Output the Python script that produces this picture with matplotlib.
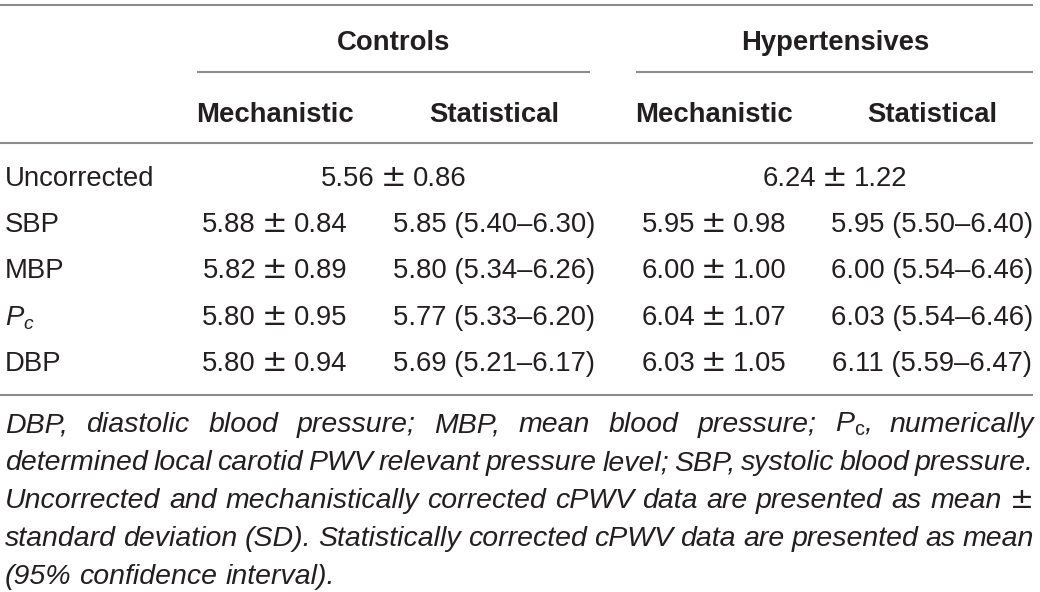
import numpy as np
import matplotlib
matplotlib.use('Agg')
import matplotlib.pyplot as plt

plt.rcParams['font.family'] = ['Liberation Sans', 'DejaVu Sans']
plt.rcParams['mathtext.fontset'] = 'custom'
plt.rcParams['mathtext.rm'] = 'Liberation Sans'
plt.rcParams['mathtext.it'] = 'Liberation Sans:italic'
plt.rcParams['mathtext.bf'] = 'Liberation Sans:bold'

# table data
groups = ['Controls', 'Hypertensives']
subcols = ['Mechanistic', 'Statistical']
row_labels = ['SBP', 'MBP', r'$P_c$', 'DBP']
uncorr_mean = [5.56, 6.24]
uncorr_sd = [0.86, 1.22]
ctrl_mech_mean = [5.88, 5.82, 5.80, 5.80]
ctrl_mech_sd = [0.84, 0.89, 0.95, 0.94]
ctrl_stat_mean = [5.85, 5.80, 5.77, 5.69]
ctrl_stat_lo = [5.40, 5.34, 5.33, 5.21]
ctrl_stat_hi = [6.30, 6.26, 6.20, 6.17]
hyp_mech_mean = [5.95, 6.00, 6.04, 6.03]
hyp_mech_sd = [0.98, 1.00, 1.07, 1.05]
hyp_stat_mean = [5.95, 6.00, 6.03, 6.11]
hyp_stat_lo = [5.50, 5.54, 5.54, 5.59]
hyp_stat_hi = [6.40, 6.46, 6.46, 6.47]

footnote = [
    r'DBP, diastolic blood pressure; MBP, mean blood pressure; $P_{\mathrm{c}}$, numerically',
    'determined local carotid PWV relevant pressure level; SBP, systolic blood pressure.',
    'Uncorrected and mechanistically corrected cPWV data are presented as mean \u00b1',
    'standard deviation (SD). Statistically corrected cPWV data are presented as mean',
    '(95% confidence interval).',
]

W, H = 1040, 592
FS = 19.8
FS_NOTE = 20.5
TXT = '#231f20'
LINE = '#8c8c8c'

fig = plt.figure(figsize=(W / 100, H / 100), dpi=100)
ax = fig.add_axes([0, 0, 1, 1])
ax.set_xlim(0, W)
ax.set_ylim(H, 0)
ax.axis('off')

def pm_cell(xc, y, m, s):
    # mean ± sd with the wide, thin ± sign of the original typesetting
    ax.text(xc - 19, y, '%.2f' % m, ha='right', va='baseline', fontsize=FS, color=TXT)
    ax.text(xc, y, '\u00b1', ha='center', va='baseline', fontsize=22, color=TXT,
            family='DejaVu Sans')
    ax.text(xc + 19, y, '%.2f' % s, ha='left', va='baseline', fontsize=FS, color=TXT)

def ci(m, lo, hi):
    return '%.2f (%.2f\u2013%.2f)' % (m, lo, hi)

# column centres
col_x = [275, 494, 714, 932]
grp_x = [394, 835]
grp_line = [(197, 590), (636, 1033)]

# rules
for y in [5, 143, 395]:
    ax.plot([0, 1033], [y, y], color=LINE, lw=1.5, solid_capstyle='butt')
for (a, b) in grp_line:
    ax.plot([a, b], [72, 72], color=LINE, lw=1.5, solid_capstyle='butt')

# headers
for g, x in zip(groups, grp_x):
    ax.text(x, 50, g, ha='center', va='baseline', fontsize=FS, fontweight='bold', color=TXT)
for i, x in enumerate(col_x):
    ax.text(x, 122, subcols[i % 2], ha='center', va='baseline', fontsize=FS, fontweight='bold', color=TXT)

# uncorrected row
ax.text(5, 186, 'Uncorrected', ha='left', va='baseline', fontsize=FS, color=TXT)
for j in range(2):
    pm_cell(grp_x[j], 186, uncorr_mean[j], uncorr_sd[j])

row_y = [232, 278, 325, 371]
for i, lab in enumerate(row_labels):
    y = row_y[i]
    ax.text(5, y, lab, ha='left', va='baseline', fontsize=FS, color=TXT)
    pm_cell(col_x[0], y, ctrl_mech_mean[i], ctrl_mech_sd[i])
    ax.text(col_x[1], y, ci(ctrl_stat_mean[i], ctrl_stat_lo[i], ctrl_stat_hi[i]),
            ha='center', va='baseline', fontsize=FS, color=TXT)
    pm_cell(col_x[2], y, hyp_mech_mean[i], hyp_mech_sd[i])
    ax.text(col_x[3], y, ci(hyp_stat_mean[i], hyp_stat_lo[i], hyp_stat_hi[i]),
            ha='center', va='baseline', fontsize=FS, color=TXT)

# footnote, justified
fig.canvas.draw()
r = fig.canvas.get_renderer()
left, right = 5, 1034
foot_y = [432, 470, 508, 546, 584]
for k, line in enumerate(footnote):
    if '$' in line:
        words = line.replace(r'$P_{\mathrm{c}}$,', 'PC_TOKEN').split(' ')
        words = [w.replace('PC_TOKEN', r'$P_{\mathrm{c}}$,') for w in words]
    else:
        words = line.split(' ')
    objs = []
    for w in words:
        fam = ['DejaVu Sans'] if w == '\u00b1' else ['Liberation Sans', 'DejaVu Sans']
        objs.append(ax.text(0, foot_y[k], w, ha='left', va='baseline', fontsize=FS_NOTE,
                            style='italic' if w != '\u00b1' else 'normal',
                            family=fam, color=TXT))
    widths = [o.get_window_extent(r).width for o in objs]
    if k < len(footnote) - 1:
        gap = (right - left - sum(widths)) / (len(words) - 1)
    else:
        gap = FS_NOTE * 100 / 72 * 0.278
    x = left
    for o, wd in zip(objs, widths):
        o.set_x(x)
        x += wd + gap

fig.savefig('out.png', dpi=100, facecolor='white')
